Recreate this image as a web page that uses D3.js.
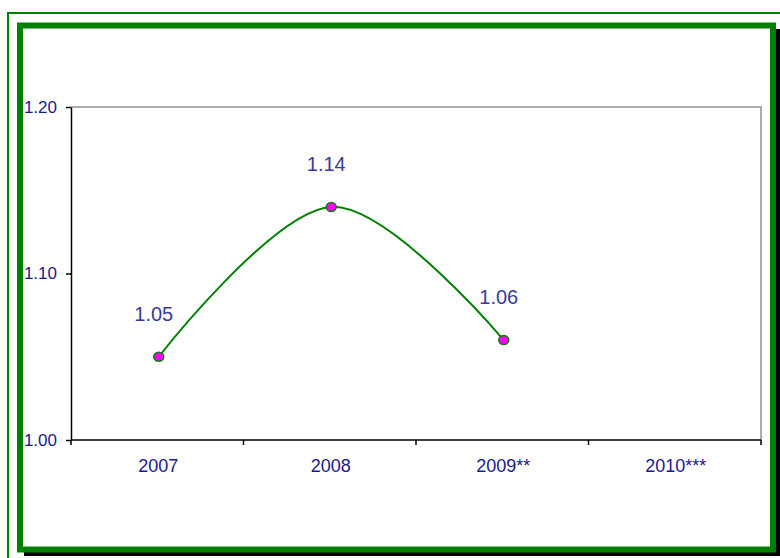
<!DOCTYPE html>
<html>
<head>
<meta charset="utf-8">
<script src="https://cdn.jsdelivr.net/npm/d3@7"></script>
<style>
  body { margin: 0; background: #fff; }
  svg { display: block; font-family: "Liberation Sans", Arial, sans-serif; }
</style>
</head>
<body>
<svg></svg>
<script>
var categories = ["2007", "2008", "2009**", "2010***"];
var values = [1.05, 1.14, 1.06, null];
var yTicks = [1.00, 1.10, 1.20];

var W = 780, H = 558;
var plot = {left: 71, top: 107, right: 761, bottom: 440};

var svg = d3.select("svg")
    .attr("width", W)
    .attr("height", H);

// outer thin frame
svg.append("rect")
    .attr("x", 8).attr("y", 13)
    .attr("width", W).attr("height", H)
    .attr("fill", "none")
    .attr("stroke", "#008000")
    .attr("stroke-width", 2);

// shadow + thick inner frame
svg.append("rect")
    .attr("x", 24).attr("y", 29)
    .attr("width", 756).attr("height", 527)
    .attr("fill", "#000");
svg.append("rect")
    .attr("x", 20).attr("y", 25.5)
    .attr("width", 753).attr("height", 524)
    .attr("fill", "#fff")
    .attr("stroke", "#008000")
    .attr("stroke-width", 6);

var x = d3.scaleBand()
    .domain(categories)
    .range([plot.left, plot.right]);

var y = d3.scaleLinear()
    .domain([1.00, 1.20])
    .range([plot.bottom, plot.top]);

// plot border top/right
svg.append("path")
    .attr("d", "M" + plot.left + "," + plot.top + "H" + plot.right + "V" + plot.bottom)
    .attr("fill", "none")
    .attr("stroke", "#909090")
    .attr("stroke-width", 1.5);

// y axis
var yAxis = svg.append("g")
    .attr("transform", "translate(" + plot.left + ",0)")
    .call(d3.axisLeft(y).tickValues(yTicks).tickFormat(d3.format(".2f"))
      .tickSize(5).tickPadding(9).tickSizeOuter(0));
yAxis.select(".domain").attr("stroke", "#000").attr("stroke-width", 1.5);
yAxis.selectAll("line").attr("stroke", "#000").attr("stroke-width", 1.5);
yAxis.selectAll("text")
    .attr("fill", "#1a1a8c")
    .style("font-size", "17px");

// x axis: labels centered in bands, ticks on band edges
var xAxis = svg.append("g")
    .attr("transform", "translate(1," + plot.bottom + ")")
    .call(d3.axisBottom(x).tickSize(0).tickPadding(19));
xAxis.select(".domain").remove();
xAxis.selectAll("text")
    .attr("fill", "#1a1a8c")
    .style("font-size", "18px");

var edges = categories.map(function(c) { return x(c); }).concat([x.range()[1]]);
svg.append("line")
    .attr("x1", plot.left).attr("x2", plot.right)
    .attr("y1", plot.bottom).attr("y2", plot.bottom)
    .attr("stroke", "#000").attr("stroke-width", 1.5);
svg.selectAll(".xtick")
    .data(edges)
  .enter().append("line")
    .attr("class", "xtick")
    .attr("x1", function(d) { return d; })
    .attr("x2", function(d) { return d; })
    .attr("y1", plot.bottom)
    .attr("y2", plot.bottom + 5)
    .attr("stroke", "#000")
    .attr("stroke-width", 1.5);

var pts = categories.map(function(c, i) { return {c: c, v: values[i]}; })
    .filter(function(d) { return d.v != null; });
var cx = function(d) { return x(d.c) + x.bandwidth() / 2 + 1.5; };

var line = d3.line()
    .x(cx)
    .y(function(d) { return y(d.v); })
    .curve(d3.curveCardinal.tension(0));

svg.append("path")
    .datum(pts)
    .attr("d", line)
    .attr("fill", "none")
    .attr("stroke", "#008000")
    .attr("stroke-width", 2);

svg.selectAll(".dot")
    .data(pts)
  .enter().append("ellipse")
    .attr("class", "dot")
    .attr("cx", cx)
    .attr("cy", function(d) { return y(d.v); })
    .attr("rx", 5)
    .attr("ry", 4.5)
    .attr("fill", "#ff00ff")
    .attr("stroke", "#008000")
    .attr("stroke-width", 1.5);

svg.selectAll(".lbl")
    .data(pts)
  .enter().append("text")
    .attr("class", "lbl")
    .attr("x", function(d) { return cx(d) - 5; })
    .attr("y", function(d) { return y(d.v) - 36; })
    .attr("text-anchor", "middle")
    .attr("fill", "#3a3a9a")
    .style("font-size", "20px")
    .text(function(d) { return d.v.toFixed(2); });
</script>
</body>
</html>
